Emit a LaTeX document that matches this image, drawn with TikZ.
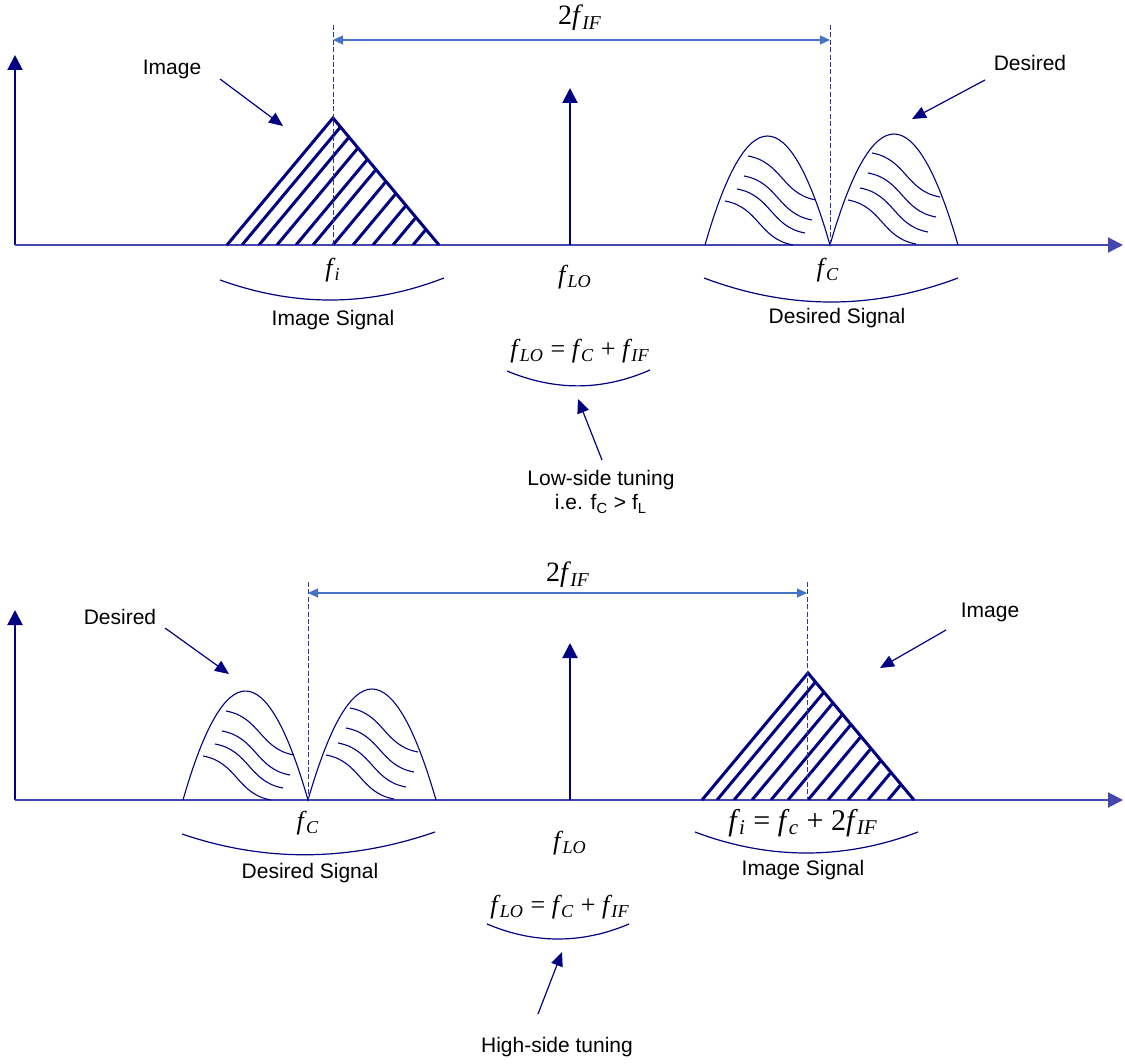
\documentclass[tikz,border=0pt]{standalone}
\usepackage{fontspec}
\setmainfont{Liberation Sans}
\newfontfamily\tms{Liberation Serif}
\usetikzlibrary{arrows.meta}

\definecolor{navy}{RGB}{0,0,128}
\definecolor{axblue}{RGB}{70,70,175}
\definecolor{dimblue}{RGB}{68,114,196}

\newcommand{\fq}[1]{\textit{f}\kern-0.03em\textsubscript{\itshape #1}}

\tikzset{
	% 两个驼峰（期望信号）
	pics/humps/.style={code={
		\draw[hump] (0,0) .. controls (41.7,-145.3) and (83.3,-145.3) .. (125,0)
			.. controls (167.7,-148) and (210.3,-148) .. (253,0);
		\foreach \x/\y in {43/-89, 39/-69, 32/-56, 20/-44, 167/-92, 163/-72, 155/-57, 143/-45}
			\draw[hump] (\x,\y) .. controls +(34,6) and +(-34,-6) .. +(68,44);
	}},
	% 斜线三角形（镜像信号）
	pics/hatch/.style={code={
		\begin{scope}
			\clip (0,0) -- (106,-127) -- (212,0) -- cycle;
			\foreach \b in {15,32,50,69,86,106,126,146,166,186}
				\draw[tri] (\b,0) -- ++(106,-127);
		\end{scope}
		\draw[tri, line join=miter] (0,0) -- (106,-127) -- (212,0);
	}}
}

\begin{document}
\begin{tikzpicture}[x=0.5pt, y=-0.5pt,
		ax/.style={axblue, line width=1pt, -{Triangle[length=7.5pt,width=7.5pt]}},
		lo/.style={navy, line width=1pt, -{Triangle[length=7.5pt,width=7.5pt]}},
		tip/.style={navy, line width=0.6pt, -{Triangle[length=7pt,width=6pt]}},
		dim/.style={dimblue, line width=0.6pt, {Triangle[length=5pt,width=4.5pt]}-{Triangle[length=5pt,width=4.5pt]}},
		guide/.style={navy!80, line width=0.5pt, dash pattern=on 2.5pt off 1.2pt},
		hump/.style={navy, line width=0.55pt},
		brace/.style={navy, line width=0.6pt},
		tri/.style={navy, line width=1.5pt},
		txt/.style={font=\fontsize{10.5}{12}\selectfont, inner sep=0pt, align=center},
		mth/.style={font=\tms\fontsize{13}{15}\selectfont, inner sep=0pt},
		big/.style={font=\tms\fontsize{14}{16}\selectfont, inner sep=0pt}]
	\useasboundingbox (0,0) rectangle (1125,1064);

	% ===== 上图：低边调谐 =====
	% 坐标轴
	\draw[lo] (15,245) -- (15,55);
	\draw[ax] (15,245) -- (1123,245);
	\draw[lo] (570,245) -- (570,88);

	% 信号
	\pic at (227,245) {hatch};
	\pic at (705,245) {humps};

	% 2f_IF 标注
	\draw[guide] (333,25) -- (333,245);
	\draw[guide] (830,25) -- (830,245);
	\coordinate (dl1) at (333,40);
	\coordinate (dr1) at (830,40);
	\draw[dim] (dl1) -- (dr1);
	\node[big] (twoT) at (580,18) {2\fq{IF}};

	% 频率标签
	\node[mth] (fiT) at (333,270) {\fq{i}};
	\node[mth] (floT) at (575,277) {\fq{LO}};
	\node[mth] (fcT) at (828,270) {\fq{C}};

	% 括号与说明
	\draw[brace] (220,280) .. controls (295,307) and (369,307) .. (444,278);
	\draw[brace] (704,278) .. controls (789,310) and (873,310) .. (958,278);
	\node[txt] (isigT) at (333,320) {Image Signal};
	\node[txt] (dsigT) at (837,318) {Desired Signal};
	\node[mth] (eqT) at (580,351) {\fq{LO} = \fq{C} + \fq{IF}};
	\draw[brace] (507,371) .. controls (555,391) and (602,391) .. (650,370);
	\node[txt] (lowT) at (601,492) {Low-side tuning\\i.e. f\textsubscript{C} > f\textsubscript{L}};

	% 指示箭头
	\node[txt] (imgT) at (172,69) {Image};
	\node[txt] (desT) at (1030,63) {Desired};
	\coordinate (imgS) at (220,79);  \coordinate (imgE) at (283,126);
	\coordinate (desS) at (985,80);  \coordinate (desE) at (912,119);
	\coordinate (lowS) at (602,460); \coordinate (lowE) at (578,399);
	\draw[tip] (imgS) -- (imgE);
	\draw[tip] (desS) -- (desE);
	\draw[tip] (lowS) -- (lowE);

	% ===== 下图：高边调谐 =====
	% 坐标轴
	\draw[lo] (15,800) -- (15,610);
	\draw[ax] (15,800) -- (1123,800);
	\draw[lo] (570,800) -- (570,643);

	% 信号
	\pic at (183,800) {humps};
	\pic at (702,800) {hatch};

	% 2f_IF 标注
	\draw[guide] (308,582) -- (308,800);
	\draw[guide] (807,582) -- (807,800);
	\coordinate (dl2) at (308,593);
	\coordinate (dr2) at (807,593);
	\draw[dim] (dl2) -- (dr2);
	\node[big] (twoB) at (568,575) {2\fq{IF}};

	% 频率标签
	\node[mth] (fcB) at (308,823) {\fq{C}};
	\node[mth] (floB) at (570,843) {\fq{LO}};
	\node[big, font=\tms\fontsize{15}{17}\selectfont] (fiB) at (803,823) {\fq{i} = \fq{c} + 2\fq{IF}};

	% 括号与说明
	\draw[brace] (182,834) .. controls (264,862) and (348,862) .. (435,832);
	\draw[brace] (695,832) .. controls (769,860) and (844,860) .. (918,832);
	\node[txt] (dsigB) at (310,873) {Desired Signal};
	\node[txt] (isigB) at (803,870) {Image Signal};
	\node[mth] (eqB) at (560,907) {\fq{LO} = \fq{C} + \fq{IF}};
	\draw[brace] (487,924) .. controls (534,944) and (582,944) .. (629,924);
	\node[txt] (highB) at (557,1047) {High-side tuning};

	% 指示箭头
	\node[txt] (desB) at (120,617) {Desired};
	\node[txt] (imgB) at (990,612) {Image};
	\coordinate (desS2) at (165,628);  \coordinate (desE2) at (229,674);
	\coordinate (imgS2) at (946,630);  \coordinate (imgE2) at (880,668);
	\coordinate (highS) at (538,1014); \coordinate (highE) at (562,952);
	\draw[tip] (desS2) -- (desE2);
	\draw[tip] (imgS2) -- (imgE2);
	\draw[tip] (highS) -- (highE);
\end{tikzpicture}
\end{document}
